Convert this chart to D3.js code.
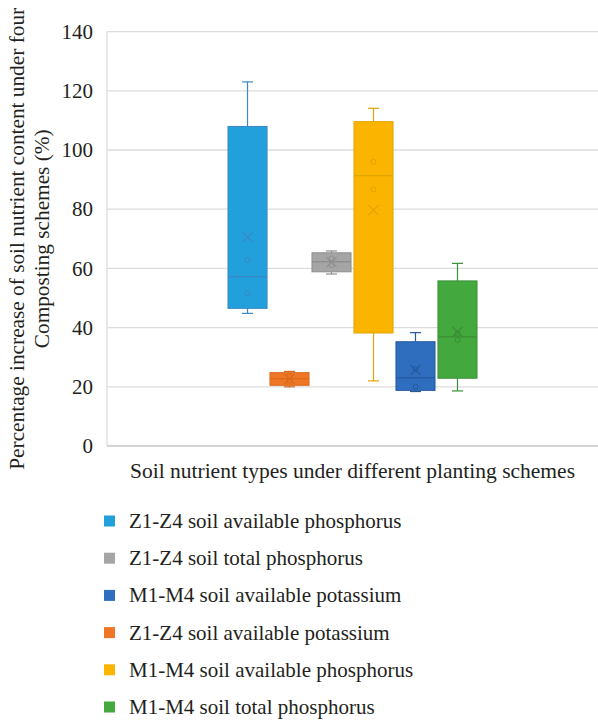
<!DOCTYPE html>
<html>
<head>
<meta charset="utf-8">
<script src="https://cdn.jsdelivr.net/npm/d3@7"></script>
<style>
  body { margin: 0; background: #fff; }
</style>
</head>
<body>
<div class="chart"></div>
<script>
// data (raw values per scheme, stats computed below)
var category = "Soil nutrient types under different planting schemes";
var series = [
  "Z1-Z4 soil available phosphorus",
  "Z1-Z4 soil available potassium",
  "Z1-Z4 soil total phosphorus",
  "M1-M4 soil available phosphorus",
  "M1-M4 soil available potassium",
  "M1-M4 soil total phosphorus"
];
var zAvailP = [123.0, 44.8, 62.8, 51.6];
var zAvailK = [25.2, 20.0, 22.0, 23.5];
var zTotalP = [65.9, 58.1, 61.1, 63.4];
var mAvailP = [114.1, 96.0, 86.7, 22.0];
var mAvailK = [38.3, 18.4, 20.0, 26.0];
var mTotalP = [61.7, 18.6, 35.8, 38.0];
var seriesValues = [zAvailP, zAvailK, zTotalP, mAvailP, mAvailK, mTotalP];
var legendOrder = [
  "Z1-Z4 soil available phosphorus",
  "Z1-Z4 soil total phosphorus",
  "M1-M4 soil available potassium",
  "Z1-Z4 soil available potassium",
  "M1-M4 soil available phosphorus",
  "M1-M4 soil total phosphorus"
];
var yTicks = [0, 20, 40, 60, 80, 100, 120, 140];

var fills = {
  "Z1-Z4 soil available phosphorus": "#22a0dc",
  "Z1-Z4 soil available potassium": "#ee7624",
  "Z1-Z4 soil total phosphorus": "#a5a5a5",
  "M1-M4 soil available phosphorus": "#fbb400",
  "M1-M4 soil available potassium": "#2f6ebf",
  "M1-M4 soil total phosphorus": "#43a83e"
};
var strokes = {
  "Z1-Z4 soil available phosphorus": "#3a88c4",
  "Z1-Z4 soil available potassium": "#d96a1e",
  "Z1-Z4 soil total phosphorus": "#8f8f8f",
  "M1-M4 soil available phosphorus": "#e2a400",
  "M1-M4 soil available potassium": "#25599e",
  "M1-M4 soil total phosphorus": "#3a8f35"
};
var serif = "'Liberation Serif', 'Times New Roman', 'DejaVu Serif', serif";

// Excel style exclusive quartile
function quart(sorted, p) {
  var pos = (sorted.length + 1) * p;
  var lo = Math.floor(pos), hi = Math.ceil(pos);
  lo = Math.max(1, Math.min(sorted.length, lo));
  hi = Math.max(1, Math.min(sorted.length, hi));
  var frac = pos - Math.floor(pos);
  return sorted[lo - 1] + frac * (sorted[hi - 1] - sorted[lo - 1]);
}

var boxes = series.map(function(name, i) {
  var v = seriesValues[i].slice().sort(d3.ascending);
  return {
    name: name,
    values: v,
    min: v[0],
    max: v[v.length - 1],
    q1: quart(v, 0.25),
    med: d3.median(v),
    q3: quart(v, 0.75),
    mean: d3.mean(v)
  };
});

var W = 598, H = 720;
var plotLeft = 107, plotRight = 598, plotTop = 31.6, plotBottom = 446;

var svg = d3.select(".chart").append("svg")
    .attr("width", W)
    .attr("height", H)
    .attr("font-family", serif);

var y = d3.scaleLinear().domain([0, 140]).range([plotBottom, plotTop]);
var x0 = d3.scaleBand().domain([category]).range([plotLeft, plotRight]).padding(0.327);
var x1 = d3.scaleBand().domain(series)
    .range([x0(category), x0(category) + x0.bandwidth()])
    .paddingInner(0.07).paddingOuter(0.0);

// gridlines
svg.append("g").selectAll("line")
    .data(yTicks.filter(function(d) { return d > 0; }))
  .enter().append("line")
    .attr("x1", plotLeft).attr("x2", plotRight)
    .attr("y1", function(d) { return y(d); })
    .attr("y2", function(d) { return y(d); })
    .attr("stroke", "#dcdcdc")
    .attr("stroke-width", 1.3);

// left border and base line
svg.append("line")
    .attr("x1", plotLeft).attr("x2", plotLeft)
    .attr("y1", plotTop).attr("y2", plotBottom)
    .attr("stroke", "#dcdcdc").attr("stroke-width", 1.3);
svg.append("line")
    .attr("x1", plotLeft).attr("x2", plotRight)
    .attr("y1", plotBottom).attr("y2", plotBottom)
    .attr("stroke", "#d4d4d4").attr("stroke-width", 2);

// y axis labels
var yAxis = d3.axisLeft(y).tickValues(yTicks).tickSize(0).tickPadding(14);
var gy = svg.append("g").attr("transform", "translate(" + plotLeft + ",0)").call(yAxis);
gy.attr("font-family", serif).attr("font-size", 21);
gy.select(".domain").remove();
gy.selectAll("text")
    .attr("font-family", serif)
    .attr("fill", "#231f20");

// y title
var yt = svg.append("text")
    .attr("transform", "translate(24," + ((plotTop + plotBottom) / 2) + ") rotate(-90)")
    .attr("text-anchor", "middle")
    .attr("font-family", serif)
    .attr("fill", "#231f20")
    .attr("font-size", 21.3);
yt.append("tspan").attr("x", 0).attr("dy", 0).text("Percentage increase of soil nutrient content under four");
yt.append("tspan").attr("x", 0).attr("dy", 25).text("Composting schemes (%)");

// x title
svg.append("text")
    .attr("x", (plotLeft + plotRight) / 2)
    .attr("y", 478)
    .attr("text-anchor", "middle")
    .attr("font-family", serif)
    .attr("fill", "#231f20")
    .attr("font-size", 21.5)
    .text(category);

// boxes
var g = svg.selectAll(".box")
    .data(boxes)
  .enter().append("g")
    .attr("class", "box");

g.each(function(d) {
  var el = d3.select(this);
  var bx = x1(d.name), bw = x1.bandwidth(), cx = bx + bw / 2;
  var cap = 11;
  var col = strokes[d.name];
  // whiskers
  el.append("line").attr("x1", cx).attr("x2", cx)
      .attr("y1", y(d.max)).attr("y2", y(d.q3))
      .attr("stroke", col).attr("stroke-width", 1.2);
  el.append("line").attr("x1", cx).attr("x2", cx)
      .attr("y1", y(d.q1)).attr("y2", y(d.min))
      .attr("stroke", col).attr("stroke-width", 1.2);
  el.append("line").attr("x1", cx - cap / 2).attr("x2", cx + cap / 2)
      .attr("y1", y(d.max)).attr("y2", y(d.max))
      .attr("stroke", col).attr("stroke-width", 1.2);
  el.append("line").attr("x1", cx - cap / 2).attr("x2", cx + cap / 2)
      .attr("y1", y(d.min)).attr("y2", y(d.min))
      .attr("stroke", col).attr("stroke-width", 1.2);
  // box
  el.append("rect")
      .attr("x", bx).attr("y", y(d.q3))
      .attr("width", bw).attr("height", y(d.q1) - y(d.q3))
      .attr("fill", fills[d.name])
      .attr("stroke", col).attr("stroke-width", 1);
  // median
  el.append("line").attr("x1", bx).attr("x2", bx + bw)
      .attr("y1", y(d.med)).attr("y2", y(d.med))
      .attr("stroke", col).attr("stroke-width", 1.3);
  // inner points (not min / max)
  el.selectAll("circle")
      .data(d.values.slice(1, -1))
    .enter().append("circle")
      .attr("cx", cx).attr("cy", function(v) { return y(v); })
      .attr("r", 2.5)
      .attr("fill", "none")
      .attr("stroke", col).attr("stroke-width", 1);
  // mean marker
  var m = 5, my = y(d.mean);
  el.append("path")
      .attr("d", "M" + (cx - m) + "," + (my - m) + "L" + (cx + m) + "," + (my + m) +
                 "M" + (cx + m) + "," + (my - m) + "L" + (cx - m) + "," + (my + m))
      .attr("stroke", col).attr("stroke-width", 1.2).attr("fill", "none");
});

// legend
var legendY = d3.scalePoint().domain(legendOrder).range([521, 707]);
var lg = svg.selectAll(".legend")
    .data(legendOrder)
  .enter().append("g")
    .attr("class", "legend")
    .attr("transform", function(d) { return "translate(104," + legendY(d) + ")"; });
lg.append("rect")
    .attr("x", 0).attr("y", -5.5)
    .attr("width", 11).attr("height", 11)
    .attr("fill", function(d) { return fills[d]; });
lg.append("text")
    .attr("x", 25).attr("y", 7)
    .attr("font-family", serif)
    .attr("fill", "#231f20")
    .attr("font-size", 21)
    .text(function(d) { return d; });
</script>
</body>
</html>
